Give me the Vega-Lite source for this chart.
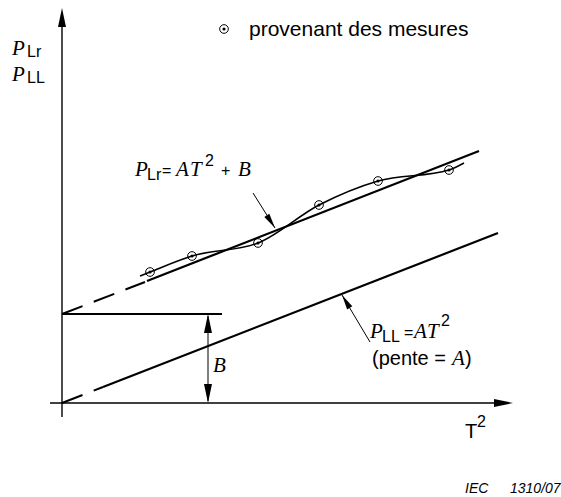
{
  "$schema": "https://vega.github.io/schema/vega-lite/v6.json",
  "width": 561,
  "height": 497,
  "autosize": {"type": "fit", "contains": "padding"},
  "padding": 0,
  "background": "white",
  "config": {"view": {"stroke": null}},
  "datasets": {
    "axisLines": [
      {"seg": "y", "x": 0, "y": -1.4},
      {"seg": "y", "x": 0, "y": 38.0},
      {"seg": "x", "x": -1.2, "y": 0},
      {"seg": "x", "x": 44.5, "y": 0}
    ],
    "fitLines": [
      {"seg": "Lr", "x": 8.5, "y": 12.2},
      {"seg": "Lr", "x": 41.7, "y": 25.2},
      {"seg": "LL", "x": 4.1, "y": 1.6},
      {"seg": "LL", "x": 43.6, "y": 17.0},
      {"seg": "B", "x": 0, "y": 8.9},
      {"seg": "B", "x": 16.0, "y": 8.9}
    ],
    "dashLines": [
      {"seg": "Lr", "x": 0, "y": 8.9},
      {"seg": "Lr", "x": 8.3, "y": 12.1},
      {"seg": "LL", "x": 0, "y": 0},
      {"seg": "LL", "x": 4.1, "y": 1.6}
    ],
    "thinLines": [
      {"seg": "a1", "x": 19.1, "y": 21.0},
      {"seg": "a1", "x": 21.3, "y": 17.5},
      {"seg": "a2", "x": 30.8, "y": 6.1},
      {"seg": "a2", "x": 28.0, "y": 10.8},
      {"seg": "b", "x": 14.6, "y": 0.2},
      {"seg": "b", "x": 14.6, "y": 8.7}
    ],
    "heads": [
      {"name": "up", "x": 0, "y": 39.5},
      {"name": "up", "x": 14.6, "y": 8.9},
      {"name": "right", "x": 45.1, "y": 0},
      {"name": "down", "x": 14.6, "y": 0},
      {"name": "Lr", "x": 21.3, "y": 17.5},
      {"name": "LL", "x": 28.0, "y": 10.8}
    ],
    "mesures": [
      {"x": 8.8, "y": 13.1},
      {"x": 13.0, "y": 14.7},
      {"x": 19.6, "y": 16.0},
      {"x": 25.7, "y": 19.8},
      {"x": 31.6, "y": 22.2},
      {"x": 38.7, "y": 23.3},
      {"x": 16.2, "y": 37.4}
    ],
    "courbe": [
      {"x": 7.8, "y": 12.7},
      {"x": 8.8, "y": 13.1},
      {"x": 13.0, "y": 14.7},
      {"x": 19.6, "y": 16.0},
      {"x": 25.7, "y": 19.8},
      {"x": 31.6, "y": 22.2},
      {"x": 38.7, "y": 23.3},
      {"x": 40.2, "y": 24.0}
    ],
    "serifTexts": [
      {"t": "P", "x": -5.0, "y": 34.8},
      {"t": "P", "x": -5.0, "y": 32.2},
      {"t": "P", "x": 7.3, "y": 22.7},
      {"t": "A", "x": 11.4, "y": 22.7},
      {"t": "T", "x": 12.8, "y": 22.7},
      {"t": "B", "x": 17.6, "y": 22.7},
      {"t": "P", "x": 30.8, "y": 6.5},
      {"t": "A", "x": 35.2, "y": 6.5},
      {"t": "T", "x": 36.5, "y": 6.5},
      {"t": "A", "x": 39.0, "y": 3.8},
      {"t": "B", "x": 15.1, "y": 3.1}
    ],
    "sansTexts": [
      {"t": "(pente =", "x": 31.0, "y": 3.8},
      {"t": ")", "x": 40.3, "y": 3.8},
      {"t": "T", "x": 40.3, "y": -3.5}
    ],
    "legendTexts": [
      {"t": "provenant des mesures", "x": 18.7, "y": 36.7}
    ],
    "smallTexts": [
      {"t": "Lr", "x": -3.5, "y": 34.6},
      {"t": "LL", "x": -3.5, "y": 32.0},
      {"t": "Lr", "x": 8.5, "y": 22.3},
      {"t": "=", "x": 10.0, "y": 22.7},
      {"t": "2", "x": 14.3, "y": 23.7},
      {"t": "+", "x": 15.9, "y": 22.7},
      {"t": "LL", "x": 32.0, "y": 6.1},
      {"t": "=", "x": 34.2, "y": 6.5},
      {"t": "2", "x": 37.9, "y": 7.7},
      {"t": "2", "x": 41.5, "y": -2.4}
    ],
    "refTexts": [
      {"t": "IEC", "x": 40.3, "y": -9.0},
      {"t": "1310/07", "x": 44.8, "y": -9.0}
    ]
  },
  "encoding": {
    "x": {"field": "x", "type": "quantitative", "axis": null, "scale": {"domain": [-6.2, 49.9], "nice": false, "zero": false}},
    "y": {"field": "y", "type": "quantitative", "axis": null, "scale": {"domain": [-9.4, 40.3], "nice": false, "zero": false}}
  },
  "layer": [
    {
      "data": {"name": "axisLines"},
      "mark": {"type": "line", "color": "black", "strokeWidth": 1.4},
      "encoding": {"detail": {"field": "seg"}}
    },
    {
      "data": {"name": "dashLines"},
      "mark": {"type": "line", "color": "black", "strokeWidth": 2, "strokeDash": [22, 12]},
      "encoding": {"detail": {"field": "seg"}}
    },
    {
      "data": {"name": "fitLines"},
      "mark": {"type": "line", "color": "black", "strokeWidth": 2.2},
      "encoding": {"detail": {"field": "seg"}}
    },
    {
      "data": {"name": "courbe"},
      "mark": {"type": "line", "color": "black", "strokeWidth": 1.6, "interpolate": "monotone"},
      "encoding": {}
    },
    {
      "data": {"name": "thinLines"},
      "mark": {"type": "line", "color": "black", "strokeWidth": 1},
      "encoding": {"detail": {"field": "seg"}}
    },
    {
      "data": {"name": "heads"},
      "transform": [{"filter": "datum.name === 'up'"}],
      "mark": {"type": "point", "shape": "M0,0L0.21,1L-0.21,1Z", "filled": true, "color": "black", "opacity": 1, "size": 1444, "angle": 0}
    },
    {
      "data": {"name": "heads"},
      "transform": [{"filter": "datum.name === 'right'"}],
      "mark": {"type": "point", "shape": "M0,0L0.21,1L-0.21,1Z", "filled": true, "color": "black", "opacity": 1, "size": 1444, "angle": 90}
    },
    {
      "data": {"name": "heads"},
      "transform": [{"filter": "datum.name === 'down'"}],
      "mark": {"type": "point", "shape": "M0,0L0.21,1L-0.21,1Z", "filled": true, "color": "black", "opacity": 1, "size": 1444, "angle": 180}
    },
    {
      "data": {"name": "heads"},
      "transform": [{"filter": "datum.name === 'Lr'"}],
      "mark": {"type": "point", "shape": "M0,0L0.2,1L-0.2,1Z", "filled": true, "color": "black", "opacity": 1, "size": 900, "angle": 147}
    },
    {
      "data": {"name": "heads"},
      "transform": [{"filter": "datum.name === 'LL'"}],
      "mark": {"type": "point", "shape": "M0,0L0.2,1L-0.2,1Z", "filled": true, "color": "black", "opacity": 1, "size": 900, "angle": 329}
    },
    {
      "data": {"name": "mesures"},
      "mark": {"type": "point", "shape": "circle", "filled": false, "stroke": "black", "strokeWidth": 1, "opacity": 1, "size": 75}
    },
    {
      "data": {"name": "mesures"},
      "mark": {"type": "point", "shape": "circle", "filled": true, "color": "black", "opacity": 1, "size": 10}
    },
    {
      "data": {"name": "serifTexts"},
      "mark": {"type": "text", "font": "Liberation Serif", "fontStyle": "italic", "fontSize": 21, "align": "left", "baseline": "alphabetic", "color": "black"},
      "encoding": {"text": {"field": "t"}}
    },
    {
      "data": {"name": "sansTexts"},
      "mark": {"type": "text", "font": "Liberation Sans", "fontSize": 20, "align": "left", "baseline": "alphabetic", "color": "black"},
      "encoding": {"text": {"field": "t"}}
    },
    {
      "data": {"name": "legendTexts"},
      "mark": {"type": "text", "font": "Liberation Sans", "fontSize": 21, "align": "left", "baseline": "alphabetic", "color": "black"},
      "encoding": {"text": {"field": "t"}}
    },
    {
      "data": {"name": "smallTexts"},
      "mark": {"type": "text", "font": "Liberation Sans", "fontSize": 16, "align": "left", "baseline": "alphabetic", "color": "black"},
      "encoding": {"text": {"field": "t"}}
    },
    {
      "data": {"name": "refTexts"},
      "mark": {"type": "text", "font": "Liberation Sans", "fontStyle": "italic", "fontSize": 14, "align": "left", "baseline": "alphabetic", "color": "black"},
      "encoding": {"text": {"field": "t"}}
    }
  ]
}
